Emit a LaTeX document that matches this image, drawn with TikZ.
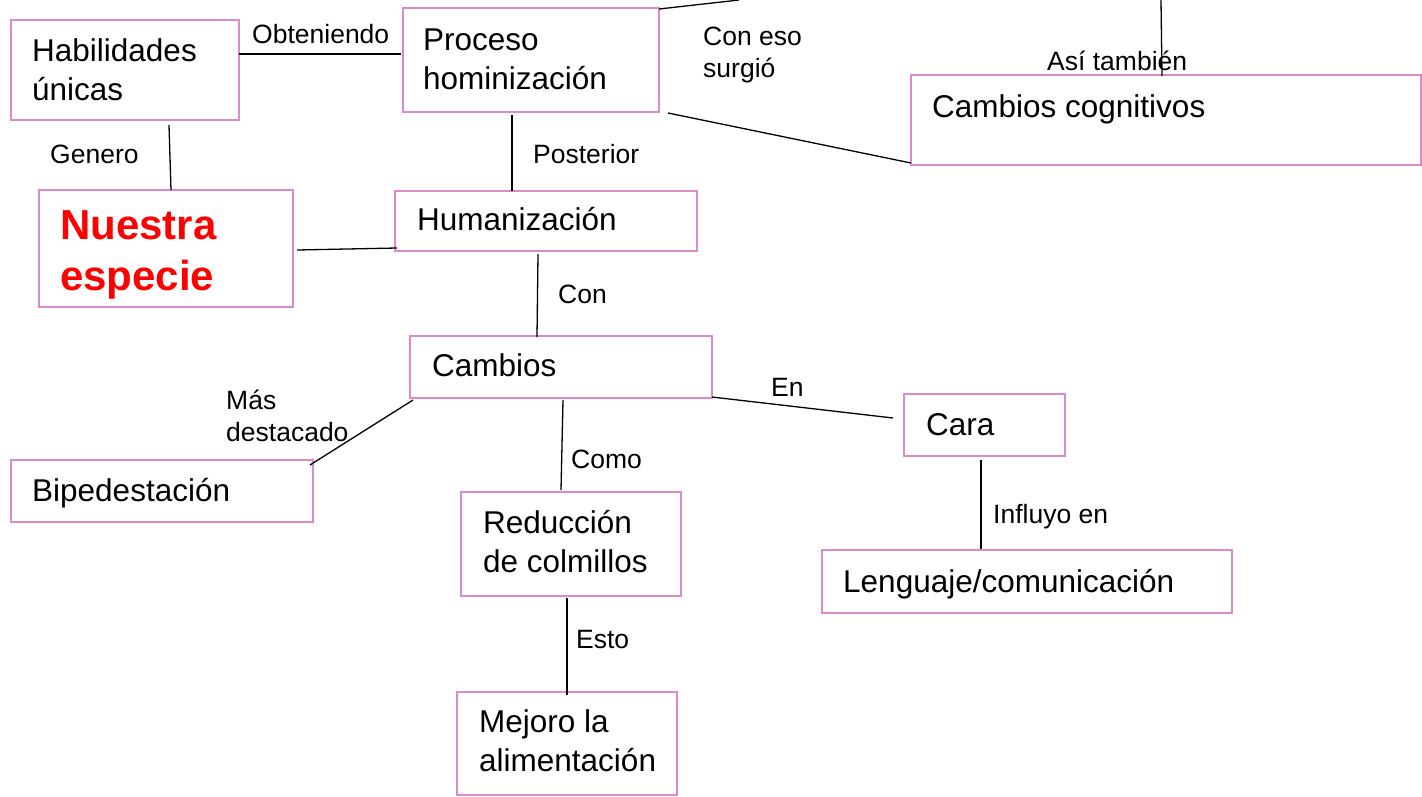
\documentclass[tikz,border=0pt]{standalone}
\usepackage{fontspec}
\setmainfont{Liberation Sans}
\usetikzlibrary{calc}
\definecolor{boxc}{RGB}{221,138,205}
\definecolor{redtxt}{RGB}{255,0,0}
\tikzset{
  box/.style={draw=boxc, line width=2pt, anchor=north west, inner sep=0pt, outer sep=0pt},
  maintxt/.style={anchor=base west, inner sep=0pt, font=\fontsize{31.5}{39}\selectfont},
  labtxt/.style={anchor=base west, inner sep=0pt, font=\fontsize{26.5}{32}\selectfont},
  boldtxt/.style={anchor=base west, inner sep=0pt, text=redtxt, font=\bfseries\fontsize{42}{51}\selectfont},
  conn/.style={line width=1.3pt, black},
}
\newcommand{\twolines}[2]{\vtop{\hbox{#1}\hbox{#2}}}
\begin{document}
\begin{tikzpicture}[x=1pt,y=-1pt]
\useasboundingbox (0,0) rectangle (1422,796);
\fill[white] (0,0) rectangle (1422,796);
% boxes
\node[box, minimum width=228pt, minimum height=100pt] (hab) at (11,20) {};
\node[box, minimum width=254pt, minimum height=117pt] (nue) at (39,190) {};
\node[box, minimum width=256pt, minimum height=104pt] (pro) at (403,8) {};
\node[box, minimum width=302pt, minimum height=60pt] (hum) at (395,191) {};
\node[box, minimum width=510pt, minimum height=90pt] (cog) at (911,75) {};
\node[box, minimum width=302pt, minimum height=62pt] (cam) at (410,336) {};
\node[box, minimum width=302pt, minimum height=62pt] (bip) at (11,460) {};
\node[box, minimum width=220pt, minimum height=104pt] (red) at (461,492) {};
\node[box, minimum width=220pt, minimum height=103pt] (mej) at (457,692) {};
\node[box, minimum width=161pt, minimum height=62pt] (cara) at (904,394) {};
\node[box, minimum width=410pt, minimum height=63pt] (len) at (822,550) {};
% box texts
\node[maintxt] (habt) at (32,61) {\twolines{Habilidades}{únicas}};
\node[maintxt] (prot) at (423,50) {\twolines{Proceso}{hominización}};
\node[maintxt] (humt) at (417,230) {Humanización};
\node[boldtxt] (nuet) at (60,239) {\twolines{Nuestra}{especie}};
\node[maintxt] (cogt) at (932,117) {Cambios cognitivos};
\node[maintxt] (camt) at (432,376) {Cambios};
\node[maintxt] (bipt) at (32,501) {Bipedestación};
\node[maintxt] (redt) at (483,533) {\twolines{Reducción}{de colmillos}};
\node[maintxt] (mejt) at (479,732) {\twolines{Mejoro la}{alimentación}};
\node[maintxt] (carat) at (926,435) {Cara};
\node[maintxt] (lent) at (843,592) {Lenguaje/comunicación};
% connector labels
\node[labtxt] (l1) at (252,43) {Obteniendo};
\node[labtxt] (l2) at (50,163) {Genero};
\node[labtxt] (l3) at (703,45) {\twolines{Con eso}{surgió}};
\node[labtxt] (l4) at (1047,70) {Así también};
\node[labtxt] (l5) at (533,163) {Posterior};
\node[labtxt] (l6) at (558,303) {Con};
\node[labtxt] (l7) at (226,409) {\twolines{Más}{destacado}};
\node[labtxt] (l8) at (571,468) {Como};
\node[labtxt] (l9) at (771,396) {En};
\node[labtxt] (l10) at (993,523) {Influyo en};
\node[labtxt] (l11) at (576,648) {Esto};
% free ends
\coordinate (up1) at (739,0);
\coordinate (up2) at (1161,0);
% connectors
\draw[conn] ($(hab.north east)+(0,34)$) -- ($(pro.north west)+(-2,46)$);
\draw[conn] ($(hab.south west)+(158,5)$) -- ($(nue.north west)+(132,0)$);
\draw[conn] ($(nue.north east)+(4,60)$) -- ($(hum.north west)+(2,57)$);
\draw[conn] ($(pro.south west)+(109,3)$) -- ($(hum.north west)+(117,0)$);
\draw[conn] ($(pro.north east)+(0,1)$) -- (up1);
\draw[conn] ($(pro.south east)+(9,1)$) -- ($(cog.south west)+(0,-2)$);
\draw[conn] (up2) -- ($(cog.north west)+(251,1)$);
\draw[conn] ($(hum.south west)+(143,3)$) -- ($(cam.north west)+(127,1)$);
\draw[conn] ($(cam.south west)+(3,2)$) -- ($(bip.north east)+(-3,5)$);
\draw[conn] ($(cam.south west)+(153,2)$) -- ($(red.north west)+(100,-2)$);
\draw[conn] ($(cam.south east)+(0,-1)$) -- ($(cara.north west)+(-11,24)$);
\draw[conn] ($(cara.south west)+(77,4)$) -- ($(len.north west)+(159,-1)$);
\draw[conn] ($(red.south west)+(106,2)$) -- ($(mej.north west)+(110,3)$);
\end{tikzpicture}
\end{document}
